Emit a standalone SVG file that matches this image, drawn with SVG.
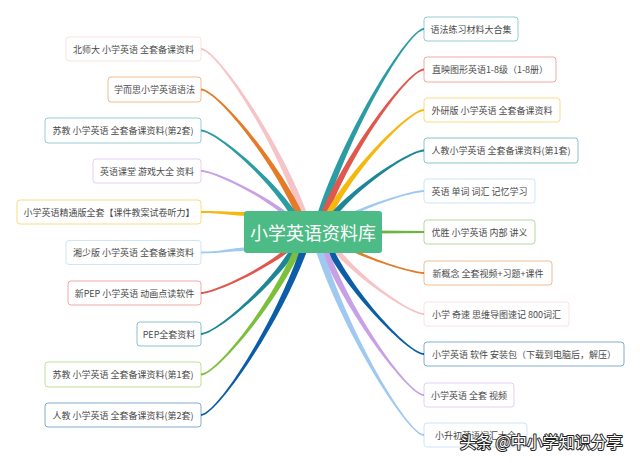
<svg xmlns="http://www.w3.org/2000/svg" width="640" height="463" viewBox="0 0 640 463">
<style>
.n rect{fill:#fff;stroke-width:1;stroke-opacity:.5}
.n text{font-family:"Noto Sans CJK SC","Noto Sans",sans-serif;font-size:9px;fill:#4a4a4a;text-anchor:middle;dominant-baseline:central}
.c1{fill:#F6C4C6}.c2{fill:#E57A27}.c3{fill:#2B9CA3}.c4{fill:#C7A0E6}.c5{fill:#F5B80F}.c6{fill:#9FC9F0}
.c7{fill:#E0574C}.c8{fill:#1E8797}.c9{fill:#7CBF3A}.c10{fill:#0C5DA8}.c11{fill:#6DB33F}
</style>
<rect width="640" height="463" fill="#fff"/>
<g id="connectors">
<path class="c1" d="M201,48.1 C216.6,48.1 282,142 308.8,218 L301.2,218 C276,142 216.6,49.9 201,49.9Z"/>
<path class="c2" d="M201,88.6 C216,88.6 279,160.2 304.8,218 L297.2,218 C273,160.2 216,90.4 201,90.4Z"/>
<path class="c3" d="M201,129.6 C215.3,129.6 275.3,178.6 299.8,218 L292.2,218 C269.3,178.6 215.3,131.4 201,131.4Z"/>
<path class="c4" d="M201,170.1 C214.4,170.1 270.8,196.9 293.8,218 L286.2,218 C264.8,196.9 214.4,171.9 201,171.9Z"/>
<path class="c5" d="M201,211.1 C225,211.1 230,212.2 252,212.2 L252,215.8 C230,215.8 225,212.9 201,212.9Z"/>
<path class="c6" d="M201,251.6 C225,251.6 230,247.2 252,247.2 L252,250.8 C230,250.8 225,253.4 201,253.4Z"/>
<path class="c7" d="M201,292.1 C214.7,292.1 266.3,267.2 288.2,246 L295.8,246 C272.3,267.2 214.7,293.9 201,293.9Z"/>
<path class="c8" d="M201,333.1 C215.3,333.1 269.3,285.6 292.2,246 L299.8,246 C275.3,285.6 215.3,334.9 201,334.9Z"/>
<path class="c9" d="M201,373.6 C215.7,373.6 271.5,303.8 295.2,246 L302.8,246 C277.5,303.8 215.7,375.4 201,375.4Z"/>
<path class="c10" d="M201,414.1 C216.6,414.1 276,322 301.2,246 L308.8,246 C282,322 216.6,415.9 201,415.9Z"/>
<path class="c3" d="M424,28.1 C408.4,28.1 343,133 316.2,218 L323.8,218 C349,133 408.4,29.9 424,29.9Z"/>
<path class="c7" d="M424,68.6 C408.9,68.6 345.3,151.2 319.2,218 L326.8,218 C351.3,151.2 408.9,70.4 424,70.4Z"/>
<path class="c5" d="M424,109.1 C409.5,109.1 348.3,169.4 323.2,218 L330.8,218 C354.3,169.4 409.5,110.9 424,110.9Z"/>
<path class="c8" d="M424,149.6 C410,149.6 351.3,187.6 327.2,218 L334.8,218 C357.3,187.6 410,151.4 424,151.4Z"/>
<path class="c6" d="M424,190.1 C412.2,190.1 361.8,205.9 341.2,218 L348.8,218 C367.8,205.9 412.2,191.9 424,191.9Z"/>
<path class="c11" d="M424,231.1 L376,230.5 L376,233.5 L424,232.9Z"/>
<path class="c2" d="M424,272.1 C412.2,272.1 367.8,258.2 348.8,246 L341.2,246 C361.8,258.2 412.2,273.9 424,273.9Z"/>
<path class="c1" d="M424,313.1 C410.4,313.1 358.8,276.6 336.8,246 L329.2,246 C352.8,276.6 410.4,314.9 424,314.9Z"/>
<path class="c10" d="M424,353.1 C409.6,353.1 355,294.6 331.8,246 L324.2,246 C349,294.6 409.6,354.9 424,354.9Z"/>
<path class="c4" d="M424,394.1 C408.9,394.1 351.3,313 326.8,246 L319.2,246 C345.3,313 408.9,395.9 424,395.9Z"/>
<path class="c6" d="M424,434.1 C408.1,434.1 347.5,331 321.8,246 L314.2,246 C341.5,331 408.1,435.9 424,435.9Z"/>
</g>
<g id="center">
<rect x="244" y="211" width="138" height="42" rx="3" fill="#4DBB85"/>
<text x="313" y="232" font-family="Noto Sans CJK SC,sans-serif" font-size="18" fill="#fff" text-anchor="middle" dominant-baseline="central">小学英语资料库</text>
</g>
<g id="n-l1" class="n"><rect x="66" y="37" width="135" height="24" rx="3" stroke="#F6C4C6"/><text x="133.5" y="49">北师大 小学英语 全套备课资料</text></g>
<g id="n-l2" class="n"><rect x="108" y="77" width="93" height="25" rx="3" stroke="#E57A27"/><text x="154.5" y="89.5">学而思小学英语语法</text></g>
<g id="n-l3" class="n"><rect x="45" y="118" width="156" height="25" rx="3" stroke="#2B9CA3"/><text x="123" y="130.5">苏教 小学英语 全套备课资料(第2套)</text></g>
<g id="n-l4" class="n"><rect x="93" y="159" width="108" height="24" rx="3" stroke="#C7A0E6"/><text x="147" y="171">英语课堂 游戏大全 资料</text></g>
<g id="n-l5" class="n"><rect x="17" y="200" width="184" height="24" rx="3" stroke="#F5B80F"/><text x="109" y="212">小学英语精通版全套【课件教案试卷听力】</text></g>
<g id="n-l6" class="n"><rect x="66" y="240.5" width="135" height="24" rx="3" stroke="#9FC9F0"/><text x="133.5" y="252.5">湘少版 小学英语 全套备课资料</text></g>
<g id="n-l7" class="n"><rect x="68" y="281" width="133" height="24" rx="3" stroke="#E0574C"/><text x="134.5" y="293">新PEP 小学英语 动画点读软件</text></g>
<g id="n-l8" class="n"><rect x="137" y="322" width="64" height="24" rx="3" stroke="#1E8797"/><text x="169" y="334">PEP全套资料</text></g>
<g id="n-l9" class="n"><rect x="45" y="362" width="156" height="25" rx="3" stroke="#7CBF3A"/><text x="123" y="374.5">苏教 小学英语 全套备课资料(第1套)</text></g>
<g id="n-l10" class="n"><rect x="45" y="403" width="156" height="24" rx="3" stroke="#0C5DA8"/><text x="123" y="415">人教 小学英语 全套备课资料(第2套)</text></g>
<g id="n-r1" class="n"><rect x="424" y="17" width="94" height="24" rx="3" stroke="#2B9CA3"/><text x="471" y="29">语法练习材料大合集</text></g>
<g id="n-r2" class="n"><rect x="424" y="57" width="132" height="25" rx="3" stroke="#E0574C"/><text x="490" y="69.5">直映图形英语1-8级（1-8册）</text></g>
<g id="n-r3" class="n"><rect x="424" y="98" width="136" height="24" rx="3" stroke="#F5B80F"/><text x="492" y="110">外研版 小学英语 全套备课资料</text></g>
<g id="n-r4" class="n"><rect x="424" y="138" width="154" height="25" rx="3" stroke="#1E8797"/><text x="501" y="150.5">人教小学英语 全套备课资料(第1套)</text></g>
<g id="n-r5" class="n"><rect x="424" y="179" width="111" height="24" rx="3" stroke="#9FC9F0"/><text x="479.5" y="191">英语 单词 词汇 记忆学习</text></g>
<g id="n-r6" class="n"><rect x="424" y="220" width="111" height="24" rx="3" stroke="#6DB33F"/><text x="479.5" y="232">优胜 小学英语 内部 讲义</text></g>
<g id="n-r7" class="n"><rect x="424" y="261" width="128" height="24" rx="3" stroke="#E57A27"/><text x="488" y="273">新概念 全套视频+习题+课件</text></g>
<g id="n-r8" class="n"><rect x="424" y="302" width="145" height="24" rx="3" stroke="#F6C4C6"/><text x="496.5" y="314">小学 奇速 思维导图速记 800词汇</text></g>
<g id="n-r9" class="n"><rect x="424" y="342" width="200" height="24" rx="3" stroke="#0C5DA8"/><text x="524" y="354">小学英语 软件 安装包（下载到电脑后，解压）</text></g>
<g id="n-r10" class="n"><rect x="424" y="383" width="90" height="24" rx="3" stroke="#C7A0E6"/><text x="469" y="395">小学英语 全套 视频</text></g>
<g id="n-r11" class="n"><rect x="424" y="423" width="103" height="24" rx="3" stroke="#9FC9F0"/><text x="475.5" y="435">小升初英语词汇大全</text></g>
<text x="460" y="448" font-family="Noto Sans CJK SC,sans-serif" font-size="16" fill="#fff" stroke="#222" stroke-width="2" paint-order="stroke" stroke-linejoin="round">头条 @中小学知识分享</text>
</svg>
